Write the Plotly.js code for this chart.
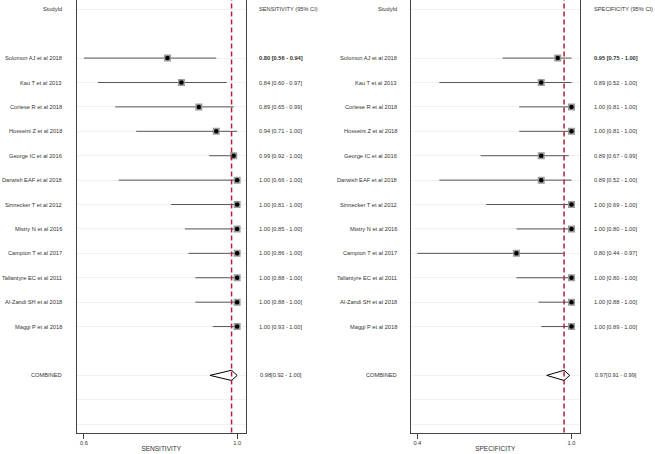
<!DOCTYPE html>
<html>
<head>
<meta charset="utf-8">
<script src="https://cdn.plot.ly/plotly-3.0.1.min.js"></script>
<style>html,body{margin:0;padding:0;background:#fff;}#chart{width:655px;height:454px;}</style>
</head>
<body>
<div id="chart"></div>
<script>
// ---- data ----
const studies = ["Solomon AJ et al 2018","Kau T et al 2013","Cortese R et al 2018","Hosseini Z et al 2018","George IC et al 2016","Darwish EAF et al 2018","Sinnecker T et al 2012","Mistry N et al 2016","Campion T et al 2017","Tallantyre EC et al 2011","Al-Zandi SH et al 2018","Maggi P et al 2018"];
const sens   = [0.80,0.84,0.89,0.94,0.99,1.00,1.00,1.00,1.00,1.00,1.00,1.00];
const sensLo = [0.56,0.60,0.65,0.71,0.92,0.66,0.81,0.85,0.86,0.88,0.88,0.93];
const sensHi = [0.94,0.97,0.99,1.00,1.00,1.00,1.00,1.00,1.00,1.00,1.00,1.00];
const spec   = [0.95,0.89,1.00,1.00,0.89,0.89,1.00,1.00,0.80,1.00,1.00,1.00];
const specLo = [0.75,0.52,0.81,0.81,0.67,0.52,0.69,0.80,0.44,0.80,0.88,0.89];
const specHi = [1.00,1.00,1.00,1.00,0.99,1.00,1.00,1.00,0.97,1.00,1.00,1.00];
const combSens = [0.984, 0.922, 1.00];   // estimate, lower, upper
const combSpec = [0.973, 0.910, 0.993];
const sensTicks = [0.56, 1.0], sensTickText = ["0.6","1.0"];
const specTicks = [0.44, 1.0], specTickText = ["0.4","1.0"];
const headerStudy = "StudyId";
const combinedLabel = "COMBINED";
const sensHeader = "SENSITIVITY (95% CI)", specHeader = "SPECIFICITY (95% CI)";
const sensTitle = "SENSITIVITY", specTitle = "SPECIFICITY";

// ---- layout rows ----
const firstRow = 2;
const rows = studies.map((s,i)=>firstRow+i);
const combRow = firstRow + studies.length + 1;
const gridRows = [0].concat(rows, [combRow, combRow+1, combRow+2]);

const FONT = "Liberation Sans, Arial, Helvetica, sans-serif";
const TXT = "#333";
const FS = 5.7;

function panelTraces(est, lo, hi, comb, xa, ya){
  const wx=[], wy=[];
  est.forEach((v,i)=>{ wx.push(lo[i],hi[i],null); wy.push(rows[i],rows[i],null); });
  const h = 0.21;
  return [
    {type:'scatter',mode:'lines',x:wx,y:wy,xaxis:xa,yaxis:ya,line:{color:'#555',width:1},hoverinfo:'skip'},
    {type:'scatter',mode:'markers',x:est,y:rows,xaxis:xa,yaxis:ya,marker:{symbol:'square',size:7,color:'#9a9a9a',line:{width:0}},hoverinfo:'skip'},
    {type:'scatter',mode:'markers',x:est,y:rows,xaxis:xa,yaxis:ya,marker:{symbol:'circle',size:4.5,color:'#000',line:{width:0}},hoverinfo:'skip'},
    {type:'scatter',mode:'lines',x:[comb[1],comb[0],comb[2],comb[0],comb[1]],y:[combRow,combRow-h,combRow,combRow+h,combRow],
     xaxis:xa,yaxis:ya,fill:'toself',fillcolor:'#fff',line:{color:'#000',width:1},hoverinfo:'skip'}
  ];
}

const data = [].concat(
  panelTraces(sens,sensLo,sensHi,combSens,'x','y'),
  panelTraces(spec,specLo,specHi,combSpec,'x2','y2')
);

const ann = [];
function fmt(v){return v.toFixed(2);}
function addPanelText(est, lo, hi, comb, labelX, ciX, header, ya){
  const yref = ya;
  ann.push({xref:'paper',yref:yref,x:labelX,y:0,text:headerStudy,xanchor:'right',showarrow:false,font:{family:FONT,size:FS,color:TXT}});
  ann.push({xref:'paper',yref:yref,x:ciX,y:0,text:header,xanchor:'left',showarrow:false,font:{family:FONT,size:FS,color:TXT}});
  studies.forEach((s,i)=>{
    ann.push({xref:'paper',yref:yref,x:labelX,y:rows[i],text:s,xanchor:'right',showarrow:false,font:{family:FONT,size:FS,color:TXT}});
    let t = fmt(est[i])+" ["+fmt(lo[i])+" - "+fmt(hi[i])+"]";
    if(i===0) t = "<b>"+t+"</b>";
    ann.push({xref:'paper',yref:yref,x:ciX,y:rows[i],text:t,xanchor:'left',showarrow:false,font:{family:FONT,size:FS,color:TXT}});
  });
  ann.push({xref:'paper',yref:yref,x:labelX,y:combRow,text:combinedLabel,xanchor:'right',showarrow:false,font:{family:FONT,size:FS,color:TXT}});
  ann.push({xref:'paper',yref:yref,x:ciX+0.002,y:combRow,text:fmt(comb[0])+"["+fmt(comb[1])+" - "+fmt(comb[2])+"]",xanchor:'left',showarrow:false,font:{family:FONT,size:FS,color:TXT}});
}
addPanelText(sens,sensLo,sensHi,combSens,64/655,257/655,sensHeader,'y');
addPanelText(spec,specLo,specHi,combSpec,399/655,591.5/655,specHeader,'y2');

const yBottom = 1 - 432.5/454;
const yRange = [17.34, -0.38];

function yaxis(anchor){
  return {domain:[yBottom,1],range:yRange,anchor:anchor,showticklabels:false,ticks:'',
    tickmode:'array',tickvals:gridRows,showgrid:true,gridcolor:'#edf1f1',gridwidth:1,
    showline:true,mirror:true,linecolor:'#444',linewidth:1,zeroline:false,fixedrange:true};
}
function xaxis(domain,range,tv,tt,title,anchor){
  return {domain:domain,range:range,anchor:anchor,tickmode:'array',tickvals:tv,ticktext:tt,
    ticks:'outside',ticklen:5,tickcolor:'#444',tickwidth:1,showline:true,linecolor:'#444',linewidth:1,
    showgrid:false,zeroline:false,tickfont:{family:FONT,size:FS,color:TXT},
    title:{text:title,font:{family:FONT,size:6.5,color:TXT},standoff:1}};
}

const shapes = [
  {type:'line',xref:'x',yref:'paper',x0:combSens[0],x1:combSens[0],y0:yBottom,y1:1,line:{color:'#b01e3e',width:1.5,dash:'5px,3px'}},
  {type:'line',xref:'x2',yref:'paper',x0:combSpec[0],x1:combSpec[0],y0:yBottom,y1:1,line:{color:'#b01e3e',width:1.5,dash:'5px,3px'}}
];

const layout = {
  width:655,height:454,margin:{l:0,r:0,t:0,b:0},
  paper_bgcolor:'#fff',plot_bgcolor:'#fff',showlegend:false,
  xaxis:xaxis([77/655,245.5/655],[0.54,1.024],sensTicks,sensTickText,sensTitle,'y'),
  yaxis:yaxis('x'),
  xaxis2:xaxis([411/655,579.5/655],[0.417,1.029],specTicks,specTickText,specTitle,'y2'),
  yaxis2:yaxis('x2'),
  annotations:ann,shapes:shapes,
  font:{family:FONT,color:TXT}
};

Plotly.newPlot('chart',data,layout,{displayModeBar:false,staticPlot:true});
</script>
</body>
</html>
